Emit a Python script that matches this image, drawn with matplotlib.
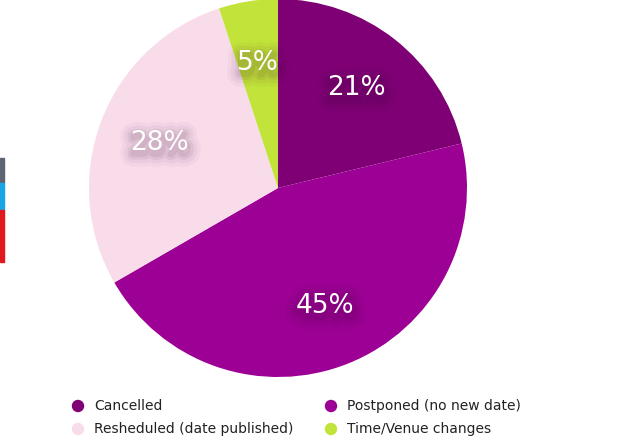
import numpy as np
import matplotlib
matplotlib.use("Agg")
import matplotlib.pyplot as plt
import matplotlib.patheffects as pe
from matplotlib.patches import Rectangle

categories = ["Cancelled", "Postponed (no new date)", "Resheduled (date published)", "Time/Venue changes"]
values = [21, 45, 28, 5]
labels = ["21%", "45%", "28%", "5%"]
colors = ["#7f0075", "#9c0094", "#f8dcea", "#c2e43a"]

W, H = 640, 441
fig = plt.figure(figsize=(W / 100, H / 100), dpi=100)
fig.patch.set_facecolor("white")

# pie axes: center (278,188) radius 189 in pixels
cx, cy, r = 278, 188, 189
ax = fig.add_axes([(cx - r) / W, (H - cy - r) / H, 2 * r / W, 2 * r / H])
wedges, _ = ax.pie(values, colors=colors, startangle=90, counterclock=False,
                   radius=1.0, wedgeprops=dict(linewidth=0))
ax.set_xlim(-1, 1)
ax.set_ylim(-1, 1)
ax.set_aspect("equal")
ax.axis("off")

glow = [pe.Stroke(linewidth=lw, foreground=(0.2, 0, 0.2, a), offset=(0.5, -3))
        for lw, a in [(18, 0.03), (13, 0.045), (8, 0.06), (4, 0.07)]]
for w, lab in zip(wedges, labels):
    ang = np.deg2rad((w.theta1 + w.theta2) / 2)
    d = 0.67
    x, y = d * np.cos(ang), d * np.sin(ang)
    ax.text(x, y, lab, ha="center", va="center", color=(0, 0, 0, 0),
            fontsize=19, family="DejaVu Sans", path_effects=glow)
    ax.text(x, y, lab, ha="center", va="center", color="white",
            fontsize=19, family="DejaVu Sans")

# overlay axes in pixel coordinates for side bars
ov = fig.add_axes([0, 0, 1, 1], zorder=-1)
ov.set_xlim(0, W)
ov.set_ylim(H, 0)
ov.axis("off")

ov.add_patch(Rectangle((0, 158), 4, 25, color="#5d6472"))
ov.add_patch(Rectangle((0, 183), 4, 27, color="#1aa6e6"))
ov.add_patch(Rectangle((0, 210), 4, 52, color="#e0191f"))

leg = fig.add_axes([0, 0, 1, 1], zorder=3)
leg.set_xlim(0, W)
leg.set_ylim(H, 0)
leg.axis("off")
pos = [(78, 406), (331, 406), (78, 429), (331, 429)]
for (x, y), cat, col in zip(pos, categories, colors):
    leg.scatter([x], [y], s=80, color=col, edgecolors="none")
    leg.text(x + 16, y, cat, ha="left", va="center", fontsize=10,
             color="#222222", family="DejaVu Sans")

fig.savefig("out.png", dpi=100, facecolor="white")
